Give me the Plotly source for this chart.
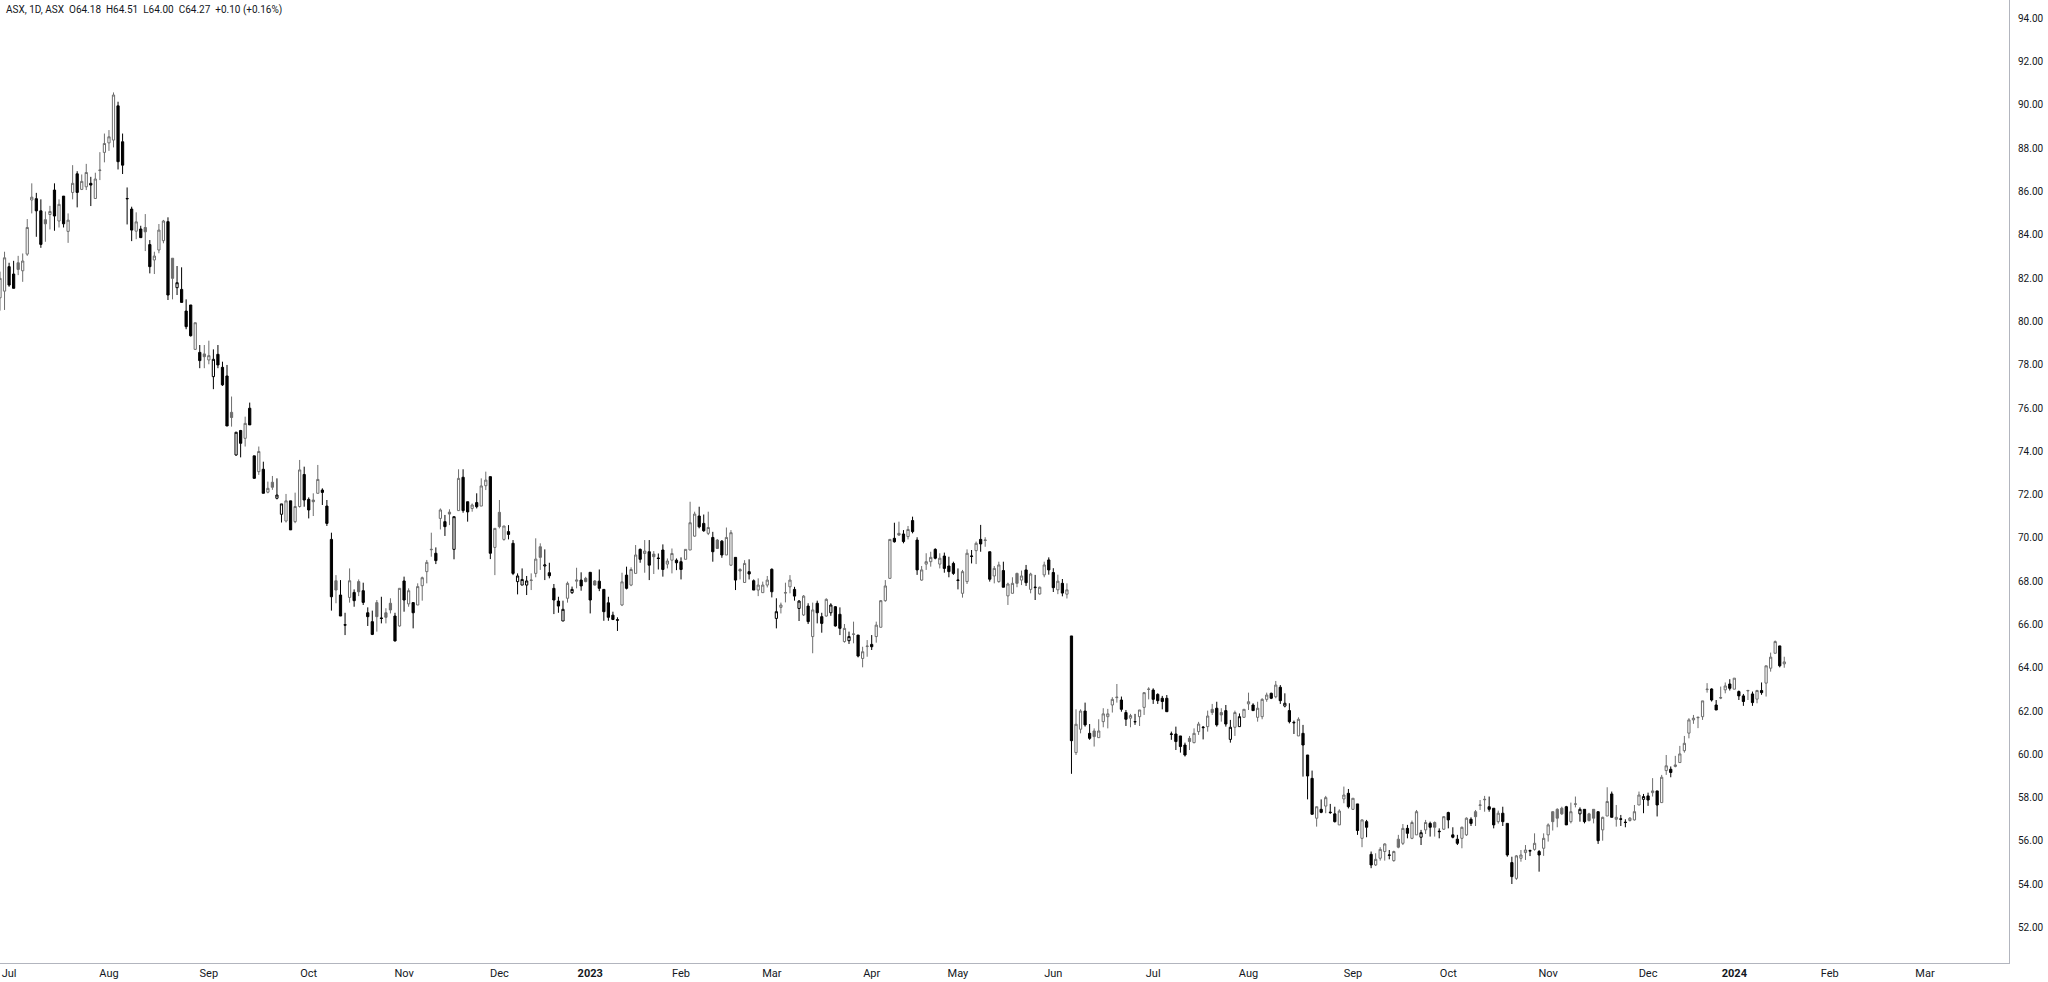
import plotly.graph_objects as go

open_ = [81.09,81.40,82.53,82.19,82.71,82.34,83.11,85.61,85.67,85.11,84.70,84.94,86.07,84.64,85.79,84.16,85.96,86.82,86.10,86.22,
86.38,85.68,86.97,87.81,88.25,88.38,89.96,88.30,85.66,85.19,84.17,84.27,84.34,83.55,82.84,83.30,83.73,84.61,82.92,81.56,
81.48,80.48,80.76,78.71,78.57,78.50,78.22,77.45,78.48,77.88,77.48,75.80,73.83,74.96,74.60,75.99,73.79,73.06,73.17,72.11,
72.57,71.83,71.09,70.78,71.71,70.75,71.45,72.93,71.78,71.75,72.06,72.21,71.47,69.93,68.02,67.36,65.99,67.25,67.48,67.98,
67.56,66.54,66.13,67.01,66.30,66.54,66.98,66.39,65.93,68.01,66.95,67.01,66.90,67.79,68.44,69.45,69.29,70.90,70.75,71.19,
69.47,71.26,72.80,71.67,71.36,71.63,71.47,72.41,72.83,69.56,71.18,69.93,70.29,69.75,67.98,67.82,67.82,68.03,68.36,69.59,
68.70,68.39,67.67,67.08,66.16,67.21,67.47,68.00,68.05,68.13,68.41,68.01,68.00,67.62,67.00,66.43,66.22,66.90,68.28,67.82,
68.36,69.47,69.28,69.36,69.25,69.07,69.44,68.79,68.97,68.97,68.90,69.01,69.44,70.08,71.01,70.67,70.21,70.02,69.90,69.85,
69.21,68.74,69.10,68.54,67.94,68.44,68.02,67.59,67.47,67.82,68.55,66.28,66.79,67.45,67.74,67.62,66.74,66.44,66.85,65.44,
66.98,66.36,66.39,66.54,66.82,66.47,65.21,65.25,65.54,65.51,64.43,64.98,65.08,65.44,65.87,67.10,68.13,69.98,70.21,70.18,
70.06,70.80,69.90,68.05,68.79,68.90,69.47,68.79,69.16,68.70,68.82,68.03,67.44,67.98,69.14,69.41,69.93,69.88,69.36,68.24,
67.98,68.49,67.32,67.44,68.36,68.05,68.52,67.62,67.70,67.41,68.29,68.98,68.40,67.60,67.90,67.40,65.47,60.08,61.16,62.00,
60.97,61.08,60.77,61.51,61.74,62.28,62.62,62.51,61.93,61.67,61.50,61.74,62.17,63.00,62.97,62.77,62.59,62.59,60.92,60.94,
60.85,60.43,60.74,60.54,61.05,61.23,61.28,62.08,62.13,61.93,62.02,60.69,61.25,61.28,61.71,62.33,62.28,61.71,61.74,62.54,
62.82,62.66,63.10,62.23,62.02,61.48,60.85,60.97,59.97,58.89,57.05,57.46,57.61,57.33,57.25,56.74,57.94,58.20,57.46,57.71,
56.12,56.89,55.38,54.89,55.20,55.51,55.33,55.09,56.08,55.89,56.58,56.12,56.28,56.17,56.51,56.81,56.85,56.45,56.54,57.31,
56.28,56.08,56.12,56.28,57.00,57.35,57.64,57.90,57.58,57.51,56.89,57.28,56.81,55.00,54.27,55.20,55.46,55.53,55.61,55.51,
55.66,56.28,57.35,57.46,57.51,57.58,56.89,57.69,57.25,57.46,57.25,57.46,57.35,56.51,57.15,58.17,57.00,57.02,56.87,56.94,
56.97,57.66,57.92,58.08,58.23,58.31,57.77,59.25,59.31,59.44,59.62,60.17,60.98,61.59,61.69,61.74,62.99,63.02,62.28,62.60,
62.98,63.25,63.01,62.90,62.70,62.93,62.79,62.55,62.95,63.29,63.98,64.67,65.01,64.18]

high = [82.30,83.22,82.71,82.80,83.03,83.14,84.73,86.38,85.94,85.64,85.08,85.34,86.38,85.64,85.79,84.99,87.22,86.94,86.79,87.28,
86.68,86.87,87.82,88.68,88.84,90.58,90.15,88.68,86.19,85.30,85.04,84.42,84.96,83.76,83.22,84.50,84.69,84.81,82.92,82.56,
82.50,81.02,80.76,79.94,78.91,78.91,79.11,78.71,78.91,78.14,77.99,76.53,74.90,74.99,75.60,76.25,73.79,74.22,73.52,72.60,
72.86,72.75,71.57,72.03,71.71,72.09,73.60,73.29,71.87,72.06,73.37,72.29,71.75,70.24,68.28,68.05,66.54,68.59,67.62,68.08,
67.93,66.79,66.64,67.13,67.28,66.75,67.21,66.54,67.67,68.21,67.67,67.01,67.90,68.21,68.98,70.24,69.56,71.36,71.06,71.32,
70.98,73.17,73.17,71.67,71.59,72.06,72.75,73.06,72.83,70.44,71.75,70.55,70.59,69.90,68.36,68.59,68.24,68.36,69.98,69.75,
69.47,68.85,67.87,67.28,67.10,67.98,67.75,68.62,68.41,68.20,68.41,68.05,68.54,67.62,67.28,66.59,66.33,68.39,68.67,68.64,
69.67,69.51,69.90,69.90,69.39,69.28,69.70,69.05,69.51,69.05,69.10,69.47,71.67,71.21,71.44,71.08,71.21,70.28,69.95,69.90,
70.48,70.36,69.10,68.60,68.97,69.01,68.08,68.13,67.98,68.24,68.59,67.21,67.01,67.93,68.28,67.74,67.13,67.36,66.98,67.01,
67.10,66.54,67.21,66.98,66.85,66.79,66.02,65.67,66.13,65.51,64.97,65.28,65.51,66.13,67.13,68.05,69.93,70.70,70.75,70.36,
70.55,70.98,70.03,68.70,69.29,69.36,69.52,69.29,69.32,69.13,68.90,68.59,68.52,69.47,69.44,69.83,70.60,70.03,69.36,68.70,
68.90,68.90,67.93,68.18,68.39,68.49,68.75,68.39,68.29,67.75,68.90,69.10,68.60,68.30,68.10,67.90,65.47,62.08,62.08,62.39,
61.40,61.20,61.62,62.13,62.10,62.64,63.25,62.67,62.05,61.87,61.87,62.05,62.85,63.10,63.05,62.82,62.70,62.74,61.05,61.28,
60.85,60.54,60.85,61.20,61.50,61.31,62.02,62.33,62.43,62.13,62.28,61.59,62.02,61.89,62.08,62.85,62.36,62.43,62.59,62.85,
62.85,63.39,63.20,62.82,62.36,61.56,61.71,61.36,59.97,59.25,57.58,57.92,58.08,57.71,57.58,57.46,58.51,58.40,57.97,57.71,
57.00,56.97,55.51,55.43,55.71,55.89,55.58,55.55,56.28,56.78,56.74,56.94,57.43,56.51,56.97,56.89,56.90,56.58,57.15,57.35,
56.63,56.28,56.66,57.09,57.09,57.43,57.89,58.08,58.05,57.51,57.40,57.58,56.81,55.27,55.35,55.58,55.81,55.60,56.35,55.58,
56.35,56.81,57.35,57.51,57.58,57.62,57.77,58.05,57.55,57.46,57.30,57.46,57.35,57.12,58.48,58.28,57.66,57.20,57.00,57.10,
57.66,58.28,58.17,58.23,58.90,58.31,59.05,59.97,59.44,59.93,60.39,60.85,61.67,61.82,61.74,62.47,63.29,63.05,62.51,63.13,
63.32,63.47,63.52,62.95,62.79,62.98,62.90,62.98,63.32,64.09,64.70,65.26,65.01,64.51]

low = [80.50,80.53,81.60,81.53,82.14,81.83,83.03,84.99,83.91,83.40,83.68,84.25,84.19,84.34,84.34,83.63,85.64,85.27,86.07,86.07,
85.33,85.68,86.53,87.35,87.88,88.04,87.02,86.81,84.48,83.71,83.80,83.87,83.25,82.22,82.19,83.15,83.61,80.99,81.02,81.22,
80.88,79.64,79.30,78.68,77.84,77.84,78.02,76.87,77.84,77.02,75.17,75.14,73.79,73.72,74.22,75.22,72.75,72.91,72.06,72.06,
72.22,71.78,70.71,70.71,70.37,70.68,71.40,71.44,70.90,71.01,72.06,71.52,70.55,66.64,66.98,66.39,65.51,67.01,66.82,67.31,
66.90,65.93,65.51,65.67,66.05,66.05,66.51,65.21,65.90,66.59,66.82,65.82,66.90,67.10,67.90,69.13,68.79,70.39,70.09,70.59,
69.01,71.26,71.16,70.75,71.21,71.36,71.47,72.21,69.02,68.28,70.44,69.87,69.93,68.28,67.39,67.82,67.36,67.59,68.18,68.52,
68.05,68.13,66.48,66.54,66.16,67.01,67.41,67.67,67.56,67.95,66.51,67.80,67.54,66.17,66.17,66.20,65.70,66.85,67.62,67.77,
68.36,68.85,68.39,68.05,68.33,68.54,68.21,68.59,68.36,68.51,68.08,69.01,69.44,70.05,70.44,70.28,70.13,68.90,69.51,69.08,
69.21,68.70,67.59,68.08,67.94,68.08,67.59,67.31,67.47,67.71,67.25,65.82,66.51,67.02,67.44,67.10,66.16,66.39,66.02,64.67,
66.05,65.62,66.36,66.40,65.90,65.51,65.16,65.10,65.13,64.48,64.02,64.51,64.82,65.16,65.87,67.05,68.13,69.78,70.09,69.75,
69.93,70.21,68.29,68.02,68.52,68.67,69.01,68.59,68.39,68.18,68.29,67.62,67.24,67.87,68.82,68.79,69.36,69.59,67.98,67.90,
67.93,67.72,66.90,67.44,67.72,67.82,67.78,67.44,67.13,67.38,68.18,68.30,67.50,67.40,67.30,67.20,59.10,59.97,60.97,61.28,
60.67,60.36,60.77,61.25,61.20,61.93,62.39,61.97,61.31,61.25,61.36,61.31,61.82,62.54,62.33,62.33,62.08,61.97,60.67,60.20,
60.08,59.90,60.20,60.51,60.90,60.69,61.05,61.82,61.28,61.51,61.28,60.54,60.85,61.28,61.71,62.05,62.02,61.51,61.62,62.43,
62.55,62.59,62.33,62.17,61.43,60.94,60.85,58.97,57.92,57.23,56.66,57.28,57.28,57.25,56.85,56.74,57.74,57.50,57.43,56.28,
55.71,56.17,54.74,54.84,55.09,55.09,55.15,55.04,55.66,55.81,56.12,56.08,56.28,55.81,56.32,56.20,56.20,56.12,56.51,56.58,
56.12,55.81,55.66,56.23,56.69,56.69,57.43,57.35,57.35,56.58,56.80,56.69,55.27,54.01,54.20,55.04,55.12,55.30,55.55,54.58,
55.31,55.97,56.48,56.63,57.20,56.74,56.81,57.55,56.89,56.81,56.90,56.81,55.86,56.01,57.15,57.09,56.66,56.69,56.63,56.90,
56.94,57.66,57.28,57.62,58.05,57.13,57.77,59.05,58.94,59.40,59.62,60.08,60.74,61.41,61.21,61.59,62.85,62.44,62.05,62.55,
62.82,62.95,63.01,62.51,62.24,62.51,62.24,62.36,62.75,62.67,63.82,64.67,64.02,64.00]

close = [81.99,82.94,81.68,81.53,82.40,82.79,84.34,85.74,85.11,83.56,84.51,85.08,84.87,85.41,84.51,84.68,86.38,85.96,86.47,86.88,
86.30,86.58,86.99,88.22,88.53,90.46,87.38,87.22,85.68,84.22,84.60,83.87,84.14,82.53,83.02,84.22,84.64,81.22,81.99,81.79,
80.88,79.76,79.34,79.94,78.19,78.37,78.42,78.25,77.99,77.07,75.17,75.56,74.88,74.37,75.29,75.22,72.75,73.99,72.06,72.29,
72.34,71.98,71.57,71.71,70.37,71.45,73.14,71.75,71.29,71.67,72.70,72.10,70.67,67.28,67.59,66.39,65.97,68.02,67.10,67.51,
67.02,66.36,65.54,66.36,66.28,66.33,66.67,65.24,67.67,67.13,67.56,66.54,67.75,68.16,68.87,69.47,68.95,71.29,70.52,71.10,
70.98,72.75,71.26,71.20,71.52,71.44,72.40,72.67,69.29,70.44,70.52,70.55,70.16,68.36,68.24,68.08,68.01,68.05,69.02,69.10,
68.75,68.25,67.13,66.85,66.70,67.90,67.62,68.05,67.78,67.98,67.13,67.82,67.67,66.59,66.33,66.23,66.20,67.97,67.67,68.54,
69.21,69.01,69.39,68.74,69.13,69.05,68.54,68.93,69.28,68.85,68.54,69.47,70.70,71.10,70.51,70.33,70.48,69.36,69.51,69.21,
70.02,70.24,68.05,68.47,68.82,68.33,67.59,67.82,67.82,68.05,67.51,66.59,66.90,67.47,68.05,67.31,67.08,67.31,66.13,66.67,
66.54,66.05,67.16,66.90,65.93,65.82,65.82,65.44,65.56,64.54,64.74,65.00,64.97,65.97,67.10,67.78,69.93,69.82,70.13,69.83,
70.39,70.29,68.52,68.52,68.90,69.10,69.06,69.06,68.59,68.44,68.36,68.05,68.44,69.29,69.16,69.75,69.72,69.90,68.09,68.59,
68.75,67.72,67.87,67.90,67.90,68.24,67.93,68.33,67.72,67.72,68.75,68.52,67.70,68.00,67.45,67.60,60.63,61.39,62.00,61.36,
60.74,60.82,61.08,61.87,61.87,62.54,62.64,62.08,61.62,61.79,61.51,62.05,62.85,63.01,62.54,62.48,62.44,61.97,60.94,60.59,
60.36,59.97,60.59,60.97,61.40,61.25,61.77,61.93,61.36,61.82,61.40,61.25,61.93,61.74,62.08,62.43,62.02,62.13,62.54,62.74,
62.59,63.20,62.48,62.36,61.51,61.46,61.62,60.43,59.00,57.23,57.58,57.32,58.00,57.31,56.89,57.38,58.12,57.58,57.97,56.48,
56.97,56.63,54.89,55.15,55.61,55.86,55.35,55.51,55.71,56.58,56.35,56.85,57.35,56.38,56.85,56.63,56.63,56.43,57.12,56.97,
56.17,55.89,56.63,57.05,56.81,57.12,57.66,57.92,57.46,56.74,57.28,56.89,55.35,54.35,55.31,55.35,55.58,55.55,55.89,55.35,
56.12,56.74,56.89,57.05,57.25,56.74,57.35,57.71,57.46,56.89,56.94,57.05,56.01,57.09,57.82,57.09,57.09,57.00,56.85,57.05,
57.35,58.12,58.05,57.89,58.31,57.66,58.94,59.47,59.16,59.51,60.02,60.51,61.59,61.67,61.71,62.47,63.01,62.51,62.05,62.62,
63.16,63.05,63.52,62.70,62.44,62.95,62.39,62.95,62.85,64.09,64.49,65.21,64.09,64.27]

month_labels = ["Jul", "Aug", "Sep", "Oct", "Nov", "Dec", "2023", "Feb", "Mar", "Apr", "May",
                "Jun", "Jul", "Aug", "Sep", "Oct", "Nov", "Dec", "2024", "Feb", "Mar"]
month_start_bar = [2, 24, 46, 68, 89, 110, 130, 150, 170, 192, 211,
                   232, 254, 275, 298, 319, 341, 363, 382, 403, 424]
price_ticks = [52, 54, 56, 58, 60, 62, 64, 66, 68, 70, 72, 74, 76, 78, 80, 82, 84, 86, 88, 90, 92, 94]

title_text = "ASX, 1D, ASX  O64.18  H64.51  L64.00  C64.27  +0.10 (+0.16%)"

GRAY = "#6e6e6e"
BLACK = "#000000"
N = len(close)
bars = list(range(N))

up_ids, dn_ids = [], []
for i in range(N):
    ref = close[i - 1] if i > 0 else open_[i]
    (up_ids if close[i] >= ref else dn_ids).append(i)


def pick(arr, ids):
    return [arr[i] for i in ids]


fig = go.Figure()
for ids, col in ((up_ids, GRAY), (dn_ids, BLACK)):
    fig.add_trace(go.Candlestick(
        x=pick(bars, ids), open=pick(open_, ids), high=pick(high, ids),
        low=pick(low, ids), close=pick(close, ids),
        increasing=dict(line=dict(color=col, width=1), fillcolor="#ffffff"),
        decreasing=dict(line=dict(color=col, width=1), fillcolor=col),
        whiskerwidth=0, showlegend=False, hoverinfo="skip",
    ))

tick_text = [("<b>%s</b>" % t) if t.isdigit() else t for t in month_labels]

fig.update_layout(
    width=2048, height=982,
    margin=dict(l=0, r=39, t=0, b=19),
    paper_bgcolor="#ffffff", plot_bgcolor="#ffffff",
    font=dict(family="Roboto, DejaVu Sans, sans-serif", size=11, color="#131722"),
    showlegend=False,
    xaxis=dict(
        range=[0, 442.5], rangeslider=dict(visible=False),
        tickmode="array", tickvals=month_start_bar, ticktext=tick_text,
        showgrid=False, zeroline=False, showline=True, linecolor="#b2b5be", linewidth=1,
        ticks="", tickfont=dict(size=11, color="#131722"), automargin=False,
    ),
    yaxis=dict(
        side="right", range=[50.36, 94.85],
        tickmode="array", tickvals=price_ticks, ticktext=["%.2f" % v for v in price_ticks],
        showgrid=False, zeroline=False, showline=True, linecolor="#b2b5be", linewidth=1,
        ticks="", ticklabelstandoff=6, tickfont=dict(size=10, color="#131722"), automargin=False,
    ),
    annotations=[dict(
        text=title_text, xref="paper", yref="paper", x=0.002, y=1.0,
        xanchor="left", yanchor="top", showarrow=False,
        font=dict(size=10, color="#131722"), yshift=-2,
    )],
)

fig.write_html("out.html", config={"displayModeBar": False},
               post_script="document.body.style.margin='0';document.body.style.overflow='hidden';")
